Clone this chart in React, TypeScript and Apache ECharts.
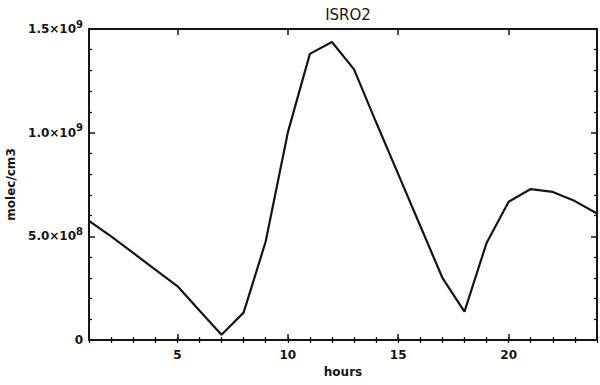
import React, { useEffect, useRef } from "react";
import * as echarts from "echarts";

// Hour of day (x) and ISRO2 concentration in molec/cm3 (y)
const hours = [1, 2, 3, 4, 5, 6, 7, 8, 9, 10, 11, 12, 13, 14, 15, 16, 17, 18, 19, 20, 21, 22, 23, 24];
const concentration = [
  5.75e8, 5.0e8, 4.2e8, 3.4e8, 2.6e8, 1.42e8, 0.25e8, 1.32e8, 4.75e8, 10.0e8, 13.8e8, 14.37e8,
  13.05e8, 10.5e8, 8.0e8, 5.5e8, 3.0e8, 1.37e8, 4.68e8, 6.67e8, 7.28e8, 7.14e8, 6.7e8, 6.1e8,
];
const xLabelValues = [5, 10, 15, 20];

const FONT = "DejaVu Sans";
const INK = "#151515";

function sciLabel(v: number): string {
  if (v === 0) return "{m|0}";
  const exp = Math.floor(Math.log10(v) + 1e-9);
  const mant = (v / Math.pow(10, exp)).toFixed(1);
  return `{m|${mant}×10}{e|${exp}}`;
}

export default function App() {
  const ref = useRef<HTMLDivElement>(null);

  useEffect(() => {
    if (!ref.current) return;
    const chart = echarts.init(ref.current, null, { renderer: "svg" });

    const baseX = {
      type: "value" as const,
      min: 1,
      max: 24,
      splitLine: { show: false },
    };
    const majorX = (position: "bottom" | "top", labels: boolean) => ({
      ...baseX,
      position,
      axisLine: { show: true, onZero: false, lineStyle: { color: INK, width: 2 } },
      axisTick: { show: true, inside: true, length: 6, customValues: xLabelValues, lineStyle: { color: INK, width: 1.5 } },
      axisLabel: labels
        ? { show: true, customValues: xLabelValues, color: INK, fontFamily: FONT, fontSize: 12, fontWeight: "bold", margin: 9 }
        : { show: false },
      ...(labels
        ? {
            name: "hours",
            nameLocation: "middle" as const,
            nameGap: 26,
            nameTextStyle: { color: INK, fontFamily: FONT, fontSize: 12, fontWeight: "bold" },
          }
        : {}),
    });
    const minorX = (position: "bottom" | "top") => ({
      ...baseX,
      position,
      interval: 1,
      axisLine: { show: false },
      axisTick: { show: true, inside: true, length: 3, lineStyle: { color: INK, width: 1.3 } },
      axisLabel: { show: false },
    });

    const yAxis = (position: "left" | "right", labels: boolean) => ({
      type: "value" as const,
      position,
      min: 0,
      max: 1.5e9,
      interval: 5e8,
      splitLine: { show: false },
      axisLine: { show: true, onZero: false, lineStyle: { color: INK, width: 2 } },
      axisTick: { show: true, inside: true, length: 6, lineStyle: { color: INK, width: 1.5 } },
      minorTick: { show: true, splitNumber: 5, length: 3, lineStyle: { color: INK, width: 1.3 } },
      axisLabel: labels
        ? {
            show: true,
            margin: 6,
            formatter: (v: number) => sciLabel(v),
            rich: {
              m: { fontFamily: FONT, fontSize: 12, fontWeight: "bold", color: INK, lineHeight: 20, verticalAlign: "middle" },
              e: { fontFamily: FONT, fontSize: 10, fontWeight: "bold", color: INK, lineHeight: 10, verticalAlign: "top" },
            },
          }
        : { show: false },
      ...(labels
        ? {
            name: "molec/cm3",
            nameLocation: "middle" as const,
            nameGap: 64,
            nameTextStyle: { color: INK, fontFamily: FONT, fontSize: 12, fontWeight: "bold" },
          }
        : {}),
    });

    chart.setOption({
      animation: false,
      backgroundColor: "#ffffff",
      title: {
        text: "ISRO2",
        left: 343,
        top: 2,
        textAlign: "center",
        textStyle: { color: INK, fontFamily: FONT, fontSize: 15, fontWeight: "normal" },
      },
      grid: { left: 89, right: 3, top: 29, bottom: 45, containLabel: false, outerBoundsMode: "none" },
      xAxis: [majorX("bottom", true), minorX("bottom"), majorX("top", false), minorX("top")],
      yAxis: [yAxis("left", true), yAxis("right", false)],
      series: [
        {
          type: "line",
          xAxisIndex: 0,
          yAxisIndex: 0,
          data: hours.map((h, i) => [h, concentration[i]]),
          showSymbol: false,
          lineStyle: { color: INK, width: 2.2 },
        },
      ],
    });

    return () => chart.dispose();
  }, []);

  return (
    <div
      ref={ref}
      style={{ position: "fixed", left: 0, top: 0, width: 600, height: 385, background: "#fff" }}
    />
  );
}
